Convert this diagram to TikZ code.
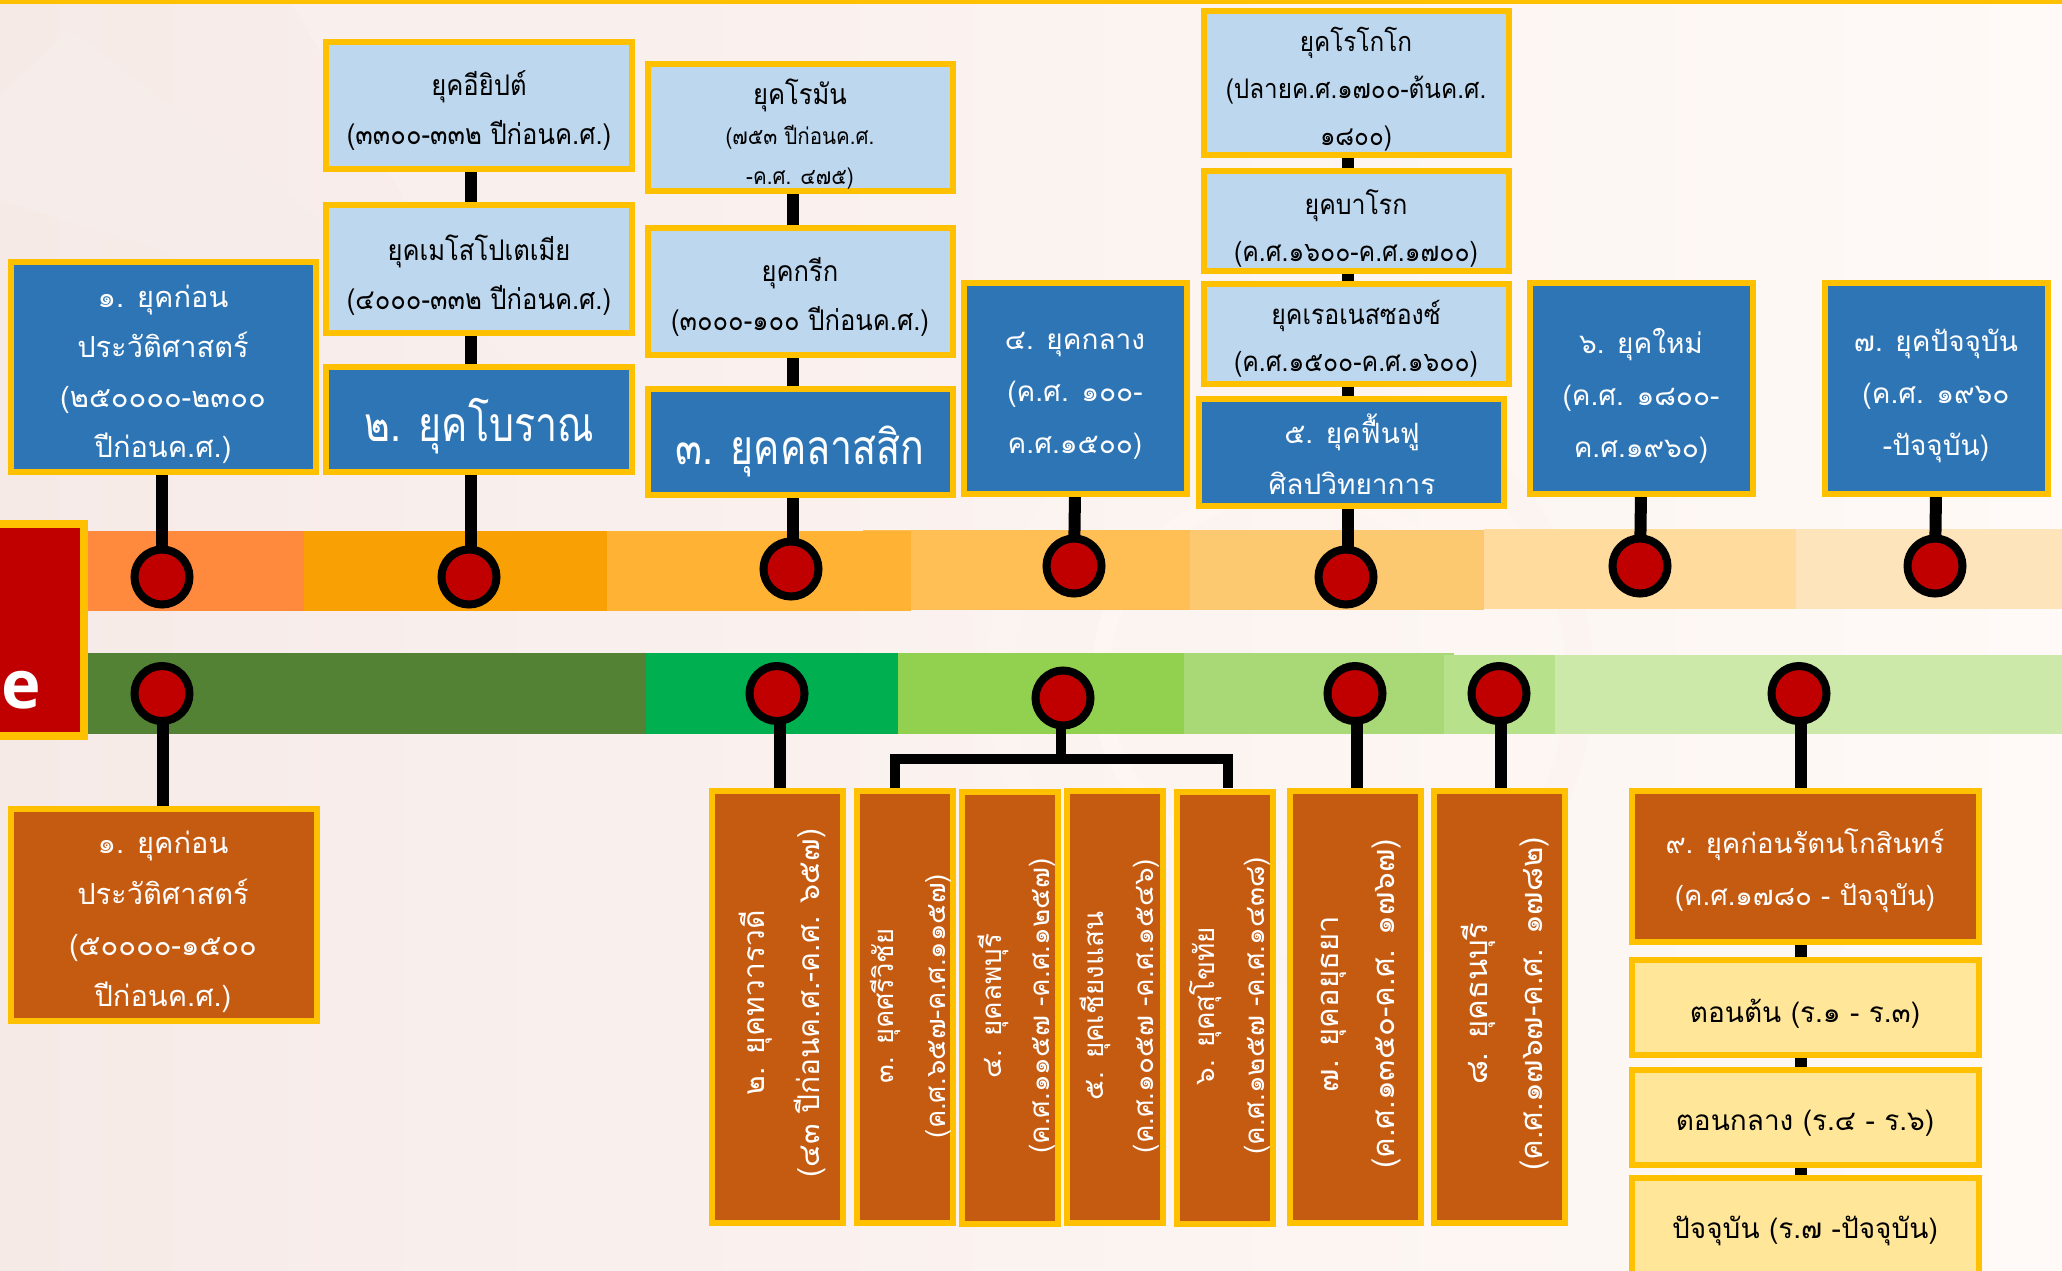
\documentclass[tikz,border=0pt]{standalone}
\usepackage{fontspec}
\usetikzlibrary{backgrounds,calc}
\newfontfamily\thaif[Script=Thai]{Loma}
\newfontfamily\thain[Script=Thai,FakeStretch=0.9]{Loma}
\newfontfamily\thaic[Script=Thai,FakeStretch=0.82]{Loma}
\newfontfamily\latf{Open Sans}
\definecolor{gold}{HTML}{FFC000}
\definecolor{bluefill}{HTML}{2E75B6}
\definecolor{lightblue}{HTML}{BDD7EE}
\definecolor{brownfill}{HTML}{C55A11}
\definecolor{yellowfill}{HTML}{FFE699}
\definecolor{redfill}{HTML}{C00000}
\definecolor{bgl}{HTML}{F6EAE7}
\definecolor{bgm}{HTML}{FBF3F0}
\definecolor{bgr}{HTML}{FFFAF7}
\definecolor{wm1}{HTML}{F6ECE9}
\definecolor{wm2}{HTML}{F9F0ED}
\definecolor{wm3}{HTML}{FCF4F1}
\definecolor{wm4}{HTML}{FDF6F3}
\definecolor{ta}{HTML}{FF8A3E}
\definecolor{tb}{HTML}{F9A104}
\definecolor{tc}{HTML}{FFB233}
\definecolor{td}{HTML}{FFBF54}
\definecolor{te}{HTML}{FDC970}
\definecolor{tf}{HTML}{FFDB9E}
\definecolor{tg}{HTML}{FEE4BA}
\definecolor{ga}{HTML}{548235}
\definecolor{gb}{HTML}{00B050}
\definecolor{gc}{HTML}{92D050}
\definecolor{gd}{HTML}{A9D976}
\definecolor{ge}{HTML}{B8E18B}
\definecolor{gf}{HTML}{CDE9A9}
\newcommand{\bx}[6]{%
  \pgfmathsetmacro{\mycx}{(#3+#5)/2}\pgfmathsetmacro{\mycy}{(#4+#6)/2}%
  \pgfmathsetmacro{\mywd}{(#5-#3-6)*0.5}\pgfmathsetmacro{\myht}{(#6-#4-6)*0.5}%
  \node[boxbase,#2,minimum width=\mywd pt,minimum height=\myht pt] (#1) at (\mycx,\mycy) {};}
\newcommand{\fsz}[2]{\thaif\fontsize{#1}{#2}\selectfont}
\newcommand{\fsn}[2]{\thain\fontsize{#1}{#2}\selectfont}
\newcommand{\fsc}[2]{\thaic\fontsize{#1}{#2}\selectfont}
\tikzset{
  boxbase/.style={draw=gold,line width=3pt,inner sep=0pt,outer sep=0pt,rectangle},
  blue box/.style={fill=bluefill},
  pale box/.style={fill=lightblue},
  brown box/.style={fill=brownfill},
  yellow box/.style={fill=yellowfill},
  wht/.style={text=white,align=center,inner sep=0pt},
  blk/.style={text=black,align=center,inner sep=0pt},
  dot/.style={circle,draw=black,fill=redfill,line width=4pt,minimum size=27.5pt,inner sep=0pt,outer sep=0pt},
  conn/.style={draw=black,line width=6pt},
  thin conn/.style={draw=black,line width=5pt}
}
\begin{document}
\begin{tikzpicture}[x=0.5pt,y=-0.5pt]
\useasboundingbox (0,0) rectangle (2062,1270);
\clip (0,0) rectangle (2062,1270);

% boxes ---------------------------------------------------
\bx{a1}{blue box}{8}{259}{319}{475}
\bx{egypt}{pale box}{323}{39}{635}{172}
\bx{meso}{pale box}{323}{202}{635}{336}
\bx{anc}{blue box}{323}{364}{635}{475}
\bx{rome}{pale box}{645}{61}{956}{194}
\bx{greek}{pale box}{645}{225}{956}{358}
\bx{clas}{blue box}{645}{386}{956}{498}
\bx{med}{blue box}{961}{280}{1190}{497}
\bx{rococo}{pale box}{1201}{8}{1512}{158}
\bx{baroque}{pale box}{1201}{168}{1512}{274}
\bx{renai}{pale box}{1201}{281}{1512}{387}
\bx{reborn}{blue box}{1196}{396}{1507}{509}
\bx{modern}{blue box}{1527}{280}{1756}{497}
\bx{pres}{blue box}{1822}{280}{2051}{497}
\bx{th1}{brown box}{8}{806}{320}{1024}
\bx{dva}{brown box}{709}{788}{846}{1226}
\bx{sri}{brown box}{854}{788}{956}{1226}
\bx{lop}{brown box}{959}{789}{1061}{1227}
\bx{chi}{brown box}{1064}{788}{1166}{1226}
\bx{suk}{brown box}{1174}{789}{1276}{1227}
\bx{ayu}{brown box}{1287}{788}{1424}{1226}
\bx{tho}{brown box}{1431}{788}{1568}{1226}
\bx{rat}{brown box}{1629}{788}{1982}{945}
\bx{ton}{yellow box}{1629}{957}{1982}{1058}
\bx{kla}{yellow box}{1629}{1067}{1982}{1168}
\bx{pre}{yellow box}{1629}{1175}{1982}{1300}
\node[draw=gold,fill=redfill,line width=4pt,rectangle,inner sep=0pt,outer sep=0pt,minimum width=50pt,minimum height=106pt] (title) at (34,630) {};

% circles -------------------------------------------------
\node[dot] (t1) at (162,577) {};
\node[dot] (t2) at (469,577) {};
\node[dot] (t3) at (791,569) {};
\node[dot] (t4) at (1074,566) {};
\node[dot] (t5) at (1346,577) {};
\node[dot] (t6) at (1640,566) {};
\node[dot] (t7) at (1935,566) {};
\node[dot] (b1) at (162,693.5) {};
\node[dot] (b2) at (777,693.5) {};
\node[dot] (b3) at (1063,698) {};
\node[dot] (b4) at (1355,693.5) {};
\node[dot] (b5) at (1499,693.5) {};
\node[dot] (b6) at (1799,693.5) {};
\coordinate (brL) at (895,788);
\coordinate (brR) at (1228,788);
\coordinate (brT) at (1061,759);

% background, bands and connectors ------------------------
\begin{pgfonlayer}{background}
\shade[left color=bgl,right color=bgr,middle color=bgm] (0,0) rectangle (2062,1270);
\fill[wm1] (0,95) -- (70,29) -- (320,220) -- (320,300) -- (0,200) -- cycle;
\fill[wm2] (290,0) -- (480,330) -- (640,520) -- (640,300) -- (590,0) -- cycle;
\draw[wm3,line width=14pt] (1290,680) circle (290);
\draw[wm4,line width=9pt] (1290,680) circle (190);
\fill[gold] (0,0) rectangle (2062,4);
% top band
\fill[td] (863,530) rectangle (1190,610);
\fill[ta] (80,531) rectangle (304,611);
\fill[tb] (304,531) rectangle (607,611);
\fill[tc] (607,531) rectangle (911,611);
\fill[te] (1190,530) rectangle (1484,610);
\fill[tf] (1484,529) rectangle (1796,609);
\fill[tg] (1796,529) rectangle (2062,609);
% bottom band
\fill[ga] (80,653) rectangle (646,734);
\fill[gb] (646,653) rectangle (898,734);
\fill[gc] (898,653) rectangle (1184,734);
\fill[gd] (1184,653) rectangle (1454,734);
\fill[ge] (1444,655) rectangle (1555,734);
\fill[gf] (1555,655) rectangle (2062,734);
% connectors above the timeline
\draw[conn] (t1 |- a1.south) -- (t1);
\draw[conn] ([xshift=1pt]t2 |- anc.south) -- ([xshift=1pt]t2.center);
\draw[conn] ([xshift=1pt]t2 |- meso.south) -- ([xshift=1pt]t2 |- anc.north);
\draw[conn] ([xshift=1pt]t2 |- egypt.south) -- ([xshift=1pt]t2 |- meso.north);
\draw[conn] ([xshift=1pt]t3 |- clas.south) -- ([xshift=1pt]t3.center);
\draw[conn] ([xshift=1pt]t3 |- greek.south) -- ([xshift=1pt]t3 |- clas.north);
\draw[conn] ([xshift=1pt]t3 |- rome.south) -- ([xshift=1pt]t3 |- greek.north);
\draw[conn] ([xshift=0.5pt]t4 |- med.south) -- (t4);
\draw[conn] ([xshift=1pt]t5 |- reborn.south) -- ([xshift=1pt]t5.center);
\draw[conn] ([xshift=1pt]t5 |- renai.south) -- ([xshift=1pt]t5 |- reborn.north);
\draw[conn] ([xshift=1pt]t5 |- baroque.south) -- ([xshift=1pt]t5 |- renai.north);
\draw[conn] ([xshift=1pt]t5 |- rococo.south) -- ([xshift=1pt]t5 |- baroque.north);
\draw[conn] ([xshift=0.5pt]t6 |- modern.south) -- (t6);
\draw[conn] ([xshift=0.5pt]t7 |- pres.south) -- (t7);
% connectors below the timeline
\draw[conn] ([xshift=0.5pt]b1.center) -- ([xshift=0.5pt]b1 |- th1.north);
\draw[conn] ([xshift=1.5pt]b2.center) -- ([xshift=1.5pt]b2 |- dva.north);
\draw[thin conn] ([xshift=-1pt]b3.center) -- ([xshift=-1pt]b3 |- brT);
\draw[thin conn] (brL) |- (brR |- brT) -- (brR);
\draw[conn] ([xshift=1pt]b4.center) -- ([xshift=1pt]b4 |- ayu.north);
\draw[conn] ([xshift=1pt]b5.center) -- ([xshift=1pt]b5 |- tho.north);
\draw[conn] ([xshift=1pt]b6.center) -- ([xshift=1pt]b6 |- rat.north);
\draw[conn] ([xshift=1pt]b6 |- rat.south) -- ([xshift=1pt]b6 |- ton.north);
\draw[conn] ([xshift=1pt]b6 |- ton.south) -- ([xshift=1pt]b6 |- kla.north);
\draw[conn] ([xshift=1pt]b6 |- kla.south) -- ([xshift=1pt]b6 |- pre.north);
\end{pgfonlayer}

% labels --------------------------------------------------
\node[wht,font=\fsz{14.5}{25}] (a1t) at (163,374) {๑. ยุคก่อน\\ประวัติศาสตร์\\(๒๕๐๐๐๐-๒๓๐๐\\ปีก่อนค.ศ.)};
\node[blk,font=\fsn{14.2}{24.5}] (egt) at (479,111) {ยุคอียิปต์\\(๓๓๐๐-๓๓๒ ปีก่อนค.ศ.)};
\node[blk,font=\fsn{14.2}{24.5}] (met) at (479,275) {ยุคเมโสโปเตเมีย\\(๔๐๐๐-๓๓๒ ปีก่อนค.ศ.)};
\node[wht,font=\fsc{24}{26}] (ant) at (479,426) {๒. ยุคโบราณ};
\node[blk,font=\fsn{11.4}{20}] (rot) at (800,134) {{\fontsize{14.2}{20}\selectfont ยุคโรมัน}\\(๗๕๓ ปีก่อนค.ศ.\\-ค.ศ. ๔๗๕)};
\node[blk,font=\fsn{14.2}{24.5}] (grt) at (800,297) {ยุคกรีก\\(๓๐๐๐-๑๐๐ ปีก่อนค.ศ.)};
\node[wht,font=\fsc{24}{26}] (clt) at (800,451) {๓. ยุคคลาสสิก};
\node[wht,font=\fsz{14}{26}] (met2) at (1075,396) {๔. ยุคกลาง\\(ค.ศ. ๑๐๐-\\ค.ศ.๑๕๐๐)};
\node[blk,font=\fsn{13.5}{23.5}] (rct) at (1356,89) {ยุคโรโกโก\\(ปลายค.ศ.๑๗๐๐-ต้นค.ศ.\\๑๘๐๐)};
\node[blk,font=\fsn{13.8}{23.5}] (bat) at (1356,228) {ยุคบาโรก\\(ค.ศ.๑๖๐๐-ค.ศ.๑๗๐๐)};
\node[blk,font=\fsn{13.8}{23.5}] (ret) at (1356,339) {ยุคเรอเนสซองซ์\\(ค.ศ.๑๕๐๐-ค.ศ.๑๖๐๐)};
\node[wht,font=\fsz{14}{25.5}] (rbt) at (1352,454) {๕. ยุคฟื้นฟู\\ศิลปวิทยาการ};
\node[wht,font=\fsz{14}{26}] (mot) at (1641,396) {๖. ยุคใหม่\\(ค.ศ. ๑๘๐๐-\\ค.ศ.๑๙๖๐)};
\node[wht,font=\fsz{14}{26}] (prt) at (1936,396) {๗. ยุคปัจจุบัน\\(ค.ศ. ๑๙๖๐\\-ปัจจุบัน)};
\node[wht,font=\fsz{14.5}{25.5}] (tht) at (163,922) {๑. ยุคก่อน\\ประวัติศาสตร์\\(๕๐๐๐๐-๑๕๐๐\\ปีก่อนค.ศ.)};
\node[wht,font=\fsz{13.8}{26}] (rtt) at (1805,871) {๙. ยุคก่อนรัตนโกสินทร์\\(ค.ศ.๑๗๘๐ - ปัจจุบัน)};
\node[blk,font=\fsz{14}{24}] (tot) at (1805,1014) {ตอนต้น (ร.๑ - ร.๓)};
\node[blk,font=\fsz{14}{24}] (klt) at (1805,1123) {ตอนกลาง (ร.๔ - ร.๖)};
\node[blk,font=\fsz{14}{24}] (pet) at (1805,1231) {ปัจจุบัน (ร.๗ -ปัจจุบัน)};
\node[wht,rotate=90,font=\fsz{15}{27.5}] (dvt) at (782,1003) {๒. ยุคทวารวดี\\(๔๓ ปีก่อนค.ศ.-ค.ศ. ๖๕๗)};
\node[wht,rotate=90,font=\fsz{13.7}{26}] (srt) at (911,1006) {๓. ยุคศรีวิชัย\\(ค.ศ.๖๕๗-ค.ศ.๑๑๕๗)};
\node[wht,rotate=90,font=\fsz{13.9}{24}] (lot) at (1017,1006) {๔. ยุคลพบุรี\\(ค.ศ.๑๑๕๗ -ค.ศ.๑๒๕๗)};
\node[wht,rotate=90,font=\fsz{13.9}{25}] (cht) at (1120,1006) {๕. ยุคเชียงแสน\\(ค.ศ.๑๐๕๗ -ค.ศ.๑๕๔๖)};
\node[wht,rotate=90,font=\fsz{13.9}{25}] (sut) at (1230,1006) {๖. ยุคสุโขทัย\\(ค.ศ.๑๒๕๗ -ค.ศ.๑๔๓๘)};
\node[wht,rotate=90,font=\fsz{15.5}{28}] (ayt) at (1361,1004) {๗. ยุคอยุธยา\\(ค.ศ.๑๓๕๐-ค.ศ. ๑๗๖๗)};
\node[wht,rotate=90,font=\fsz{15.5}{27.5}] (tot2) at (1505,1004) {๘. ยุคธนบุรี\\(ค.ศ.๑๗๖๗-ค.ศ. ๑๗๘๒)};
\node[text=white,inner sep=0pt,anchor=base east,font=\latf\bfseries\fontsize{33.5}{36}\selectfont] (titlet) at (41,708) {ne};
\end{tikzpicture}
\end{document}
